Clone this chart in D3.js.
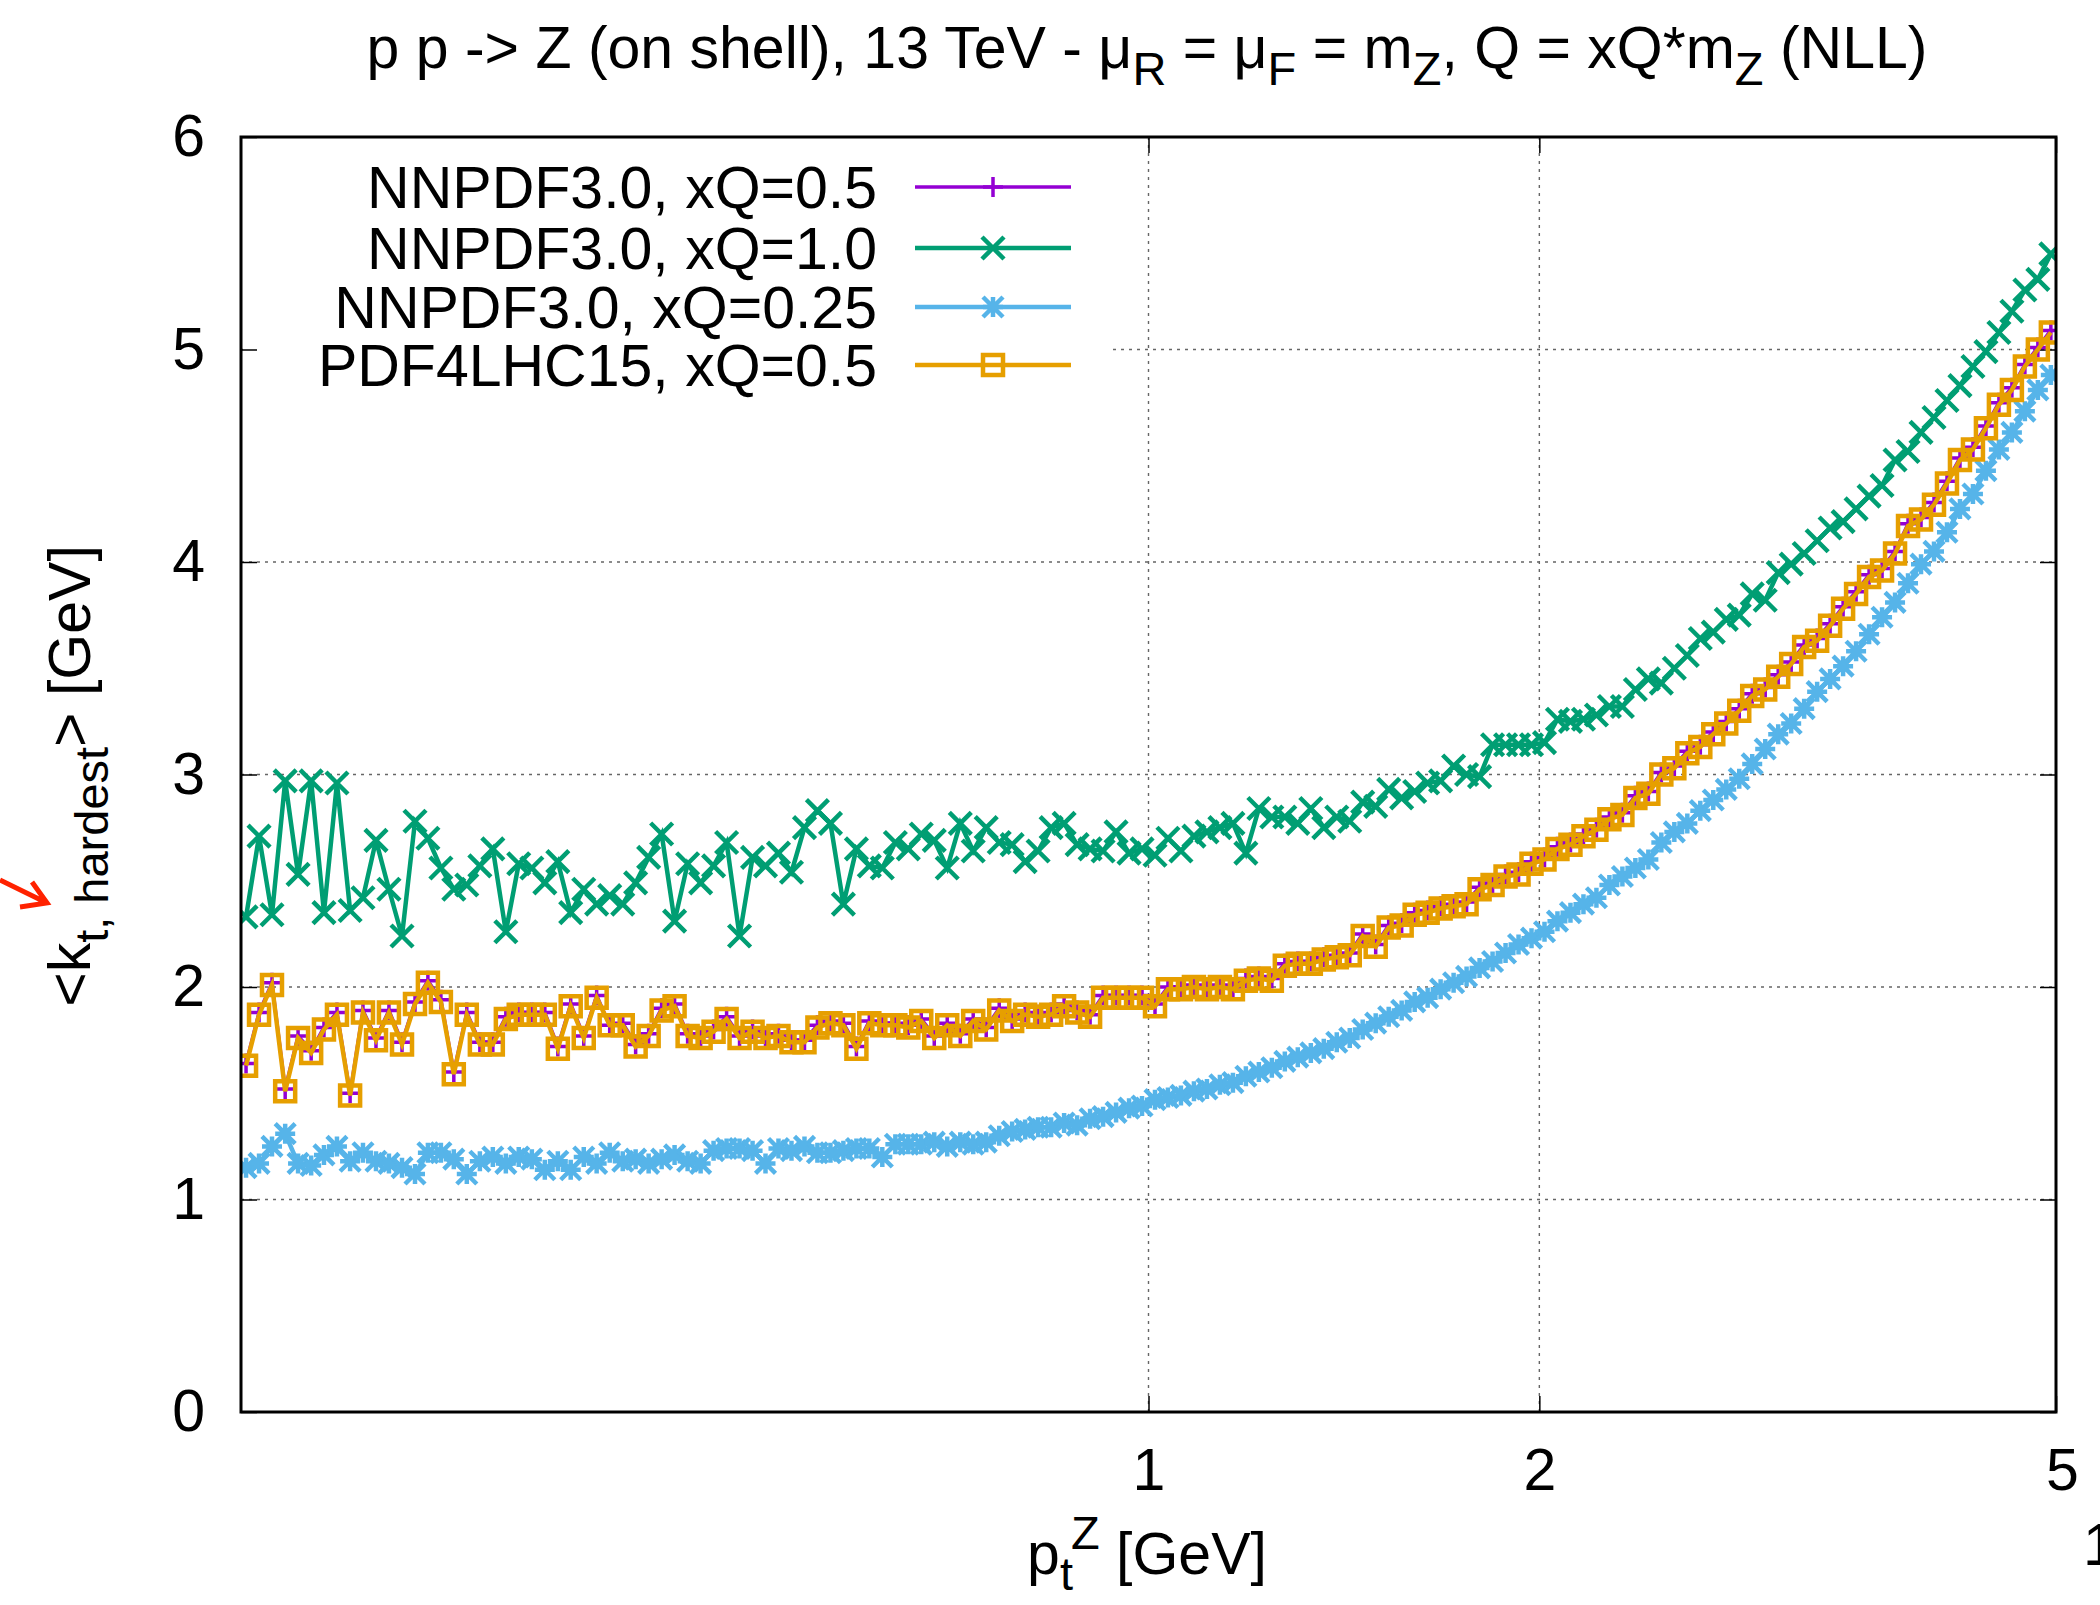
<!DOCTYPE html>
<html>
<head>
<meta charset="utf-8">
<script src="https://cdn.jsdelivr.net/npm/d3@7"></script>
<style>
    body { margin: 0; background: #fff; }
    text { font-family: "Liberation Sans", Arial, Helvetica, sans-serif; fill: #000; }
</style>
</head>
<body>
<svg id="chart" width="2100" height="1605"></svg>
<script>
// pt bins (GeV), 100 log bins per decade
const ptBins = [
    0.2018, 0.2065, 0.2113, 0.2163, 0.2213, 0.2265, 0.2317, 0.2371, 0.2427, 0.2483,
    0.2541, 0.2600, 0.2661, 0.2723, 0.2786, 0.2851, 0.2917, 0.2985, 0.3055, 0.3126,
    0.3199, 0.3273, 0.3350, 0.3428, 0.3508, 0.3589, 0.3673, 0.3758, 0.3846, 0.3936,
    0.4027, 0.4121, 0.4217, 0.4315, 0.4416, 0.4519, 0.4624, 0.4732, 0.4842, 0.4955,
    0.5070, 0.5188, 0.5309, 0.5433, 0.5559, 0.5689, 0.5821, 0.5957, 0.6095, 0.6237,
    0.6383, 0.6531, 0.6683, 0.6839, 0.6998, 0.7162, 0.7328, 0.7499, 0.7674, 0.7852,
    0.8035, 0.8222, 0.8414, 0.8610, 0.8811, 0.9016, 0.9226, 0.9441, 0.9661, 0.9886,
    1.0116, 1.0351, 1.0592, 1.0839, 1.1092, 1.1350, 1.1615, 1.1885, 1.2162, 1.2445,
    1.2735, 1.3031, 1.3336, 1.3646, 1.3964, 1.4289, 1.4621, 1.4962, 1.5311, 1.5667,
    1.6033, 1.6406, 1.6788, 1.7179, 1.7579, 1.7989, 1.8408, 1.8837, 1.9276, 1.9724,
    2.0184, 2.0653, 2.1135, 2.1628, 2.2131, 2.2646, 2.3174, 2.3713, 2.4266, 2.4831,
    2.5410, 2.6002, 2.6608, 2.7227, 2.7861, 2.8510, 2.9174, 2.9854, 3.0550, 3.1261,
    3.1989, 3.2734, 3.3496, 3.4276, 3.5075, 3.5892, 3.6728, 3.7584, 3.8459, 3.9355,
    4.0272, 4.1210, 4.2170, 4.3152, 4.4157, 4.5185, 4.6238, 4.7316, 4.8417, 4.9545
];

// <kt,hardest> for NNPDF3.0, xQ=0.5
const nnpdf05 = [
    1.64, 1.88, 2.02, 1.52, 1.77, 1.70, 1.81, 1.88, 1.50, 1.89,
    1.76, 1.89, 1.74, 1.93, 2.03, 1.94, 1.60, 1.88, 1.74, 1.74,
    1.86, 1.88, 1.88, 1.88, 1.72, 1.92, 1.77, 1.96, 1.82, 1.83,
    1.73, 1.78, 1.90, 1.92, 1.78, 1.77, 1.80, 1.86, 1.77, 1.80,
    1.77, 1.78, 1.75, 1.75, 1.82, 1.84, 1.83, 1.72, 1.84, 1.83,
    1.83, 1.82, 1.85, 1.77, 1.83, 1.78, 1.85, 1.81, 1.90, 1.85,
    1.88, 1.87, 1.88, 1.92, 1.89, 1.87, 1.96, 1.96, 1.96, 1.96,
    1.92, 2.00, 2.00, 2.01, 2.00, 2.01, 2.00, 2.04, 2.05, 2.04,
    2.11, 2.12, 2.12, 2.14, 2.15, 2.16, 2.25, 2.20, 2.29, 2.30,
    2.35, 2.36, 2.38, 2.39, 2.40, 2.47, 2.49, 2.53, 2.54, 2.59,
    2.61, 2.66, 2.68, 2.72, 2.75, 2.80, 2.82, 2.90, 2.92, 3.01,
    3.04, 3.11, 3.14, 3.20, 3.25, 3.31, 3.38, 3.41, 3.47, 3.53,
    3.61, 3.64, 3.71, 3.79, 3.86, 3.94, 3.97, 4.05, 4.18, 4.21,
    4.28, 4.38, 4.49, 4.54, 4.64, 4.75, 4.82, 4.93, 5.01, 5.09
];

// NNPDF3.0, xQ=1.0
const nnpdf10 = [
    2.33, 2.71, 2.34, 2.97, 2.53, 2.97, 2.35, 2.96, 2.36, 2.42,
    2.69, 2.46, 2.24, 2.78, 2.70, 2.56, 2.46, 2.48, 2.57, 2.65,
    2.26, 2.58, 2.56, 2.49, 2.59, 2.35, 2.46, 2.39, 2.43, 2.39,
    2.49, 2.61, 2.72, 2.31, 2.58, 2.49, 2.57, 2.68, 2.24, 2.61,
    2.57, 2.63, 2.54, 2.75, 2.83, 2.77, 2.39, 2.65, 2.57, 2.56,
    2.68, 2.65, 2.72, 2.69, 2.56, 2.77, 2.64, 2.75, 2.68, 2.67,
    2.59, 2.64, 2.75, 2.77, 2.67, 2.65, 2.64, 2.73, 2.63, 2.65,
    2.62, 2.70, 2.64, 2.71, 2.73, 2.75, 2.77, 2.63, 2.84, 2.80,
    2.80, 2.77, 2.84, 2.75, 2.80, 2.78, 2.87, 2.85, 2.93, 2.89,
    2.92, 2.96, 2.97, 3.04, 3.00, 2.99, 3.14, 3.14, 3.14, 3.14,
    3.15, 3.26, 3.25, 3.26, 3.28, 3.32, 3.32, 3.40, 3.45, 3.43,
    3.50, 3.56, 3.64, 3.67, 3.73, 3.75, 3.85, 3.82, 3.95, 3.99,
    4.04, 4.10, 4.16, 4.19, 4.25, 4.31, 4.36, 4.48, 4.52, 4.61,
    4.68, 4.76, 4.83, 4.92, 4.99, 5.08, 5.18, 5.28, 5.33, 5.45
];

// NNPDF3.0, xQ=0.25
const nnpdf025 = [
    1.15, 1.17, 1.25, 1.31, 1.17, 1.16, 1.21, 1.25, 1.18, 1.22,
    1.18, 1.17, 1.15, 1.12, 1.22, 1.22, 1.19, 1.12, 1.18, 1.20,
    1.17, 1.20, 1.19, 1.14, 1.18, 1.14, 1.20, 1.17, 1.22, 1.18,
    1.19, 1.17, 1.19, 1.21, 1.18, 1.17, 1.23, 1.24, 1.24, 1.23,
    1.17, 1.24, 1.23, 1.25, 1.22, 1.22, 1.23, 1.24, 1.24, 1.20,
    1.26, 1.26, 1.26, 1.27, 1.25, 1.27, 1.26, 1.27, 1.30, 1.32,
    1.33, 1.34, 1.34, 1.36, 1.35, 1.38, 1.39, 1.41, 1.43, 1.44,
    1.47, 1.48, 1.49, 1.51, 1.52, 1.54, 1.55, 1.58, 1.60, 1.62,
    1.65, 1.67, 1.69, 1.71, 1.74, 1.76, 1.80, 1.83, 1.86, 1.89,
    1.93, 1.95, 1.99, 2.02, 2.05, 2.09, 2.12, 2.16, 2.20, 2.23,
    2.26, 2.31, 2.35, 2.39, 2.42, 2.48, 2.52, 2.56, 2.60, 2.68,
    2.73, 2.77, 2.83, 2.88, 2.93, 2.98, 3.05, 3.12, 3.19, 3.24,
    3.31, 3.39, 3.45, 3.51, 3.58, 3.66, 3.74, 3.81, 3.90, 3.99,
    4.05, 4.14, 4.25, 4.32, 4.43, 4.53, 4.61, 4.71, 4.81, 4.88
];

// PDF4LHC15, xQ=0.5
const pdf4lhc05 = [
    1.63, 1.87, 2.01, 1.51, 1.76, 1.69, 1.80, 1.87, 1.49, 1.88,
    1.75, 1.88, 1.73, 1.92, 2.02, 1.93, 1.59, 1.87, 1.73, 1.73,
    1.85, 1.87, 1.87, 1.87, 1.71, 1.91, 1.76, 1.95, 1.82, 1.82,
    1.72, 1.77, 1.89, 1.91, 1.77, 1.76, 1.79, 1.85, 1.76, 1.79,
    1.76, 1.77, 1.74, 1.74, 1.81, 1.83, 1.82, 1.71, 1.83, 1.82,
    1.82, 1.81, 1.84, 1.76, 1.82, 1.77, 1.84, 1.80, 1.89, 1.84,
    1.87, 1.86, 1.87, 1.91, 1.88, 1.86, 1.95, 1.95, 1.95, 1.95,
    1.91, 1.99, 1.99, 2.00, 1.99, 2.00, 1.99, 2.03, 2.04, 2.03,
    2.10, 2.11, 2.11, 2.13, 2.14, 2.15, 2.24, 2.19, 2.28, 2.29,
    2.34, 2.35, 2.37, 2.38, 2.39, 2.46, 2.48, 2.52, 2.53, 2.58,
    2.60, 2.65, 2.67, 2.71, 2.74, 2.79, 2.81, 2.89, 2.91, 3.00,
    3.03, 3.10, 3.13, 3.19, 3.24, 3.30, 3.37, 3.40, 3.46, 3.52,
    3.60, 3.63, 3.70, 3.78, 3.85, 3.93, 3.96, 4.04, 4.17, 4.20,
    4.27, 4.37, 4.48, 4.53, 4.63, 4.74, 4.81, 4.92, 5.00, 5.08
];

const yTicks = [0, 1, 2, 3, 4, 5, 6];
const xTicks = [1, 2, 5];
const seriesNames = ["NNPDF3.0, xQ=0.5", "NNPDF3.0, xQ=1.0", "NNPDF3.0, xQ=0.25", "PDF4LHC15, xQ=0.5"];

const W = 2100, H = 1605;
const mLeft = 241, mRight = 2056, mTop = 137, mBottom = 1412;
const FS = 59;

const svg = d3.select("#chart");
svg.append("rect").attr("width", W).attr("height", H).attr("fill", "#fff");

const x = d3.scaleLog().domain([0.2, 5]).range([mLeft, mRight]);
const y = d3.scaleLinear().domain([0, 6]).range([mBottom, mTop]);

// grid (dotted)
const grid = svg.append("g")
    .attr("stroke", "#666")
    .attr("stroke-width", 1.4)
    .attr("stroke-dasharray", "3,5");
grid.selectAll("line.h")
    .data(yTicks.filter(d => d > 0 && d < 6))
    .enter().append("line")
    .attr("x1", mLeft).attr("x2", mRight)
    .attr("y1", d => y(d)).attr("y2", d => y(d));
grid.selectAll("line.v")
    .data(xTicks.filter(d => d < 5))
    .enter().append("line")
    .attr("x1", d => x(d)).attr("x2", d => x(d))
    .attr("y1", mTop).attr("y2", mBottom);

// key background hides the grid behind it
svg.append("rect")
    .attr("x", mLeft + 2).attr("y", mTop + 2)
    .attr("width", 1109 - mLeft - 2).attr("height", 396 - mTop)
    .attr("fill", "#fff");

// axes, ticks pointing inwards
const tick = 16;
svg.append("g")
    .attr("transform", `translate(${mLeft},0)`)
    .call(d3.axisLeft(y).tickValues(yTicks).tickFormat(d3.format("d")).tickSize(-tick).tickPadding(36))
    .call(g => g.select(".domain").remove())
    .call(g => g.selectAll("line").attr("stroke", "#000").attr("stroke-width", 1.5))
    .call(g => g.selectAll("text").attr("font-size", FS).attr("font-family", null));

svg.append("g")
    .attr("transform", `translate(${mRight},0)`)
    .call(d3.axisRight(y).tickValues(yTicks).tickSize(-tick).tickFormat(""))
    .call(g => g.select(".domain").remove())
    .call(g => g.selectAll("line").attr("stroke", "#000").attr("stroke-width", 1.5));

svg.append("g")
    .attr("transform", `translate(0,${mBottom})`)
    .call(d3.axisBottom(x).tickValues(xTicks).tickFormat(d3.format("d")).tickSize(-tick).tickPadding(36))
    .call(g => g.select(".domain").remove())
    .call(g => g.selectAll("line").attr("stroke", "#000").attr("stroke-width", 1.5))
    .call(g => g.selectAll("text").attr("font-size", FS).attr("font-family", null))
    .call(g => g.selectAll(".tick").filter(d => d === 5).select("text").attr("dx", 6));

svg.append("g")
    .attr("transform", `translate(0,${mTop})`)
    .call(d3.axisTop(x).tickValues(xTicks).tickSize(-tick).tickFormat(""))
    .call(g => g.select(".domain").remove())
    .call(g => g.selectAll("line").attr("stroke", "#000").attr("stroke-width", 1.5));

// data
svg.append("clipPath").attr("id", "plotclip")
    .append("rect").attr("x", mLeft).attr("y", mTop)
    .attr("width", mRight - mLeft).attr("height", mBottom - mTop);

function markerPath(type, s) {
    const plus = `M${-s},0H${s}M0,${-s}V${s}`;
    const cross = `M${-s},${-s}L${s},${s}M${-s},${s}L${s},${-s}`;
    if (type === "plus") return plus;
    if (type === "cross") return cross;
    if (type === "star") return plus + cross;
    return `M${-s},${-s}H${s}V${s}H${-s}Z`;
}

const series = [
    { name: seriesNames[0], values: nnpdf05, color: "#9400d3", lw: 3.5, marker: "plus", size: 10 },
    { name: seriesNames[1], values: nnpdf10, color: "#009e73", lw: 4.5, marker: "cross", size: 11 },
    { name: seriesNames[2], values: nnpdf025, color: "#56b4e9", lw: 4.5, marker: "star", size: 10 },
    { name: seriesNames[3], values: pdf4lhc05, color: "#e69f00", lw: 4.5, marker: "square", size: 10 }
];

const line = d3.line()
    .x(d => x(d[0]))
    .y(d => y(d[1]));

const plot = svg.append("g").attr("clip-path", "url(#plotclip)");

series.forEach(s => {
    const pts = ptBins.map((p, i) => [p, s.values[i]]);
    const g = plot.append("g");
    g.append("path")
        .datum(pts)
        .attr("d", line)
        .attr("fill", "none")
        .attr("stroke", s.color)
        .attr("stroke-width", s.lw)
        .attr("stroke-linejoin", "miter");
    g.selectAll("path.pt")
        .data(pts)
        .enter().append("path")
        .attr("class", "pt")
        .attr("transform", d => `translate(${x(d[0])},${y(d[1])})`)
        .attr("d", markerPath(s.marker, s.size))
        .attr("fill", "none")
        .attr("stroke", s.color)
        .attr("stroke-width", s.lw);
});

// key
const keyRows = [187, 248, 307, 365];
const key = svg.append("g");
series.forEach((s, i) => {
    key.append("text")
        .attr("x", 877).attr("y", keyRows[i] + 21)
        .attr("text-anchor", "end")
        .attr("font-size", FS)
        .text(s.name);
    key.append("line")
        .attr("x1", 915).attr("x2", 1071)
        .attr("y1", keyRows[i]).attr("y2", keyRows[i])
        .attr("stroke", s.color).attr("stroke-width", s.lw);
    key.append("path")
        .attr("transform", `translate(993,${keyRows[i]})`)
        .attr("d", markerPath(s.marker, s.size))
        .attr("fill", "none")
        .attr("stroke", s.color).attr("stroke-width", s.lw);
});

// border
svg.append("rect")
    .attr("x", mLeft).attr("y", mTop)
    .attr("width", mRight - mLeft).attr("height", mBottom - mTop)
    .attr("fill", "none").attr("stroke", "#000").attr("stroke-width", 3);

// title
const title = svg.append("text")
    .attr("x", 1147).attr("y", 68)
    .attr("text-anchor", "middle")
    .attr("font-size", 59);
const sub = (t, txt) => {
    t.append("tspan").attr("dy", 17).attr("font-size", 47).text(txt);
};
title.append("tspan").text("p p -> Z (on shell), 13 TeV - μ");
sub(title, "R");
title.append("tspan").attr("dy", -17).text(" = μ");
sub(title, "F");
title.append("tspan").attr("dy", -17).text(" = m");
sub(title, "Z");
title.append("tspan").attr("dy", -17).text(", Q = xQ*m");
sub(title, "Z");
title.append("tspan").attr("dy", -17).text(" (NLL)");

// x label
const xl = svg.append("text")
    .attr("x", 1147).attr("y", 1574)
    .attr("text-anchor", "middle")
    .attr("font-size", FS);
xl.append("tspan").text("p");
xl.append("tspan").attr("dy", 16).attr("font-size", 47).text("t");
xl.append("tspan").attr("dy", -41).attr("dx", -2).attr("font-size", 47).text("Z");
xl.append("tspan").attr("dy", 25).text(" [GeV]");

// y label
const yl = svg.append("text")
    .attr("transform", "translate(90,776) rotate(-90)")
    .attr("text-anchor", "middle")
    .attr("font-size", FS);
yl.append("tspan").text("<k");
yl.append("tspan").attr("dy", 18).attr("font-size", 47).text("t, hardest");
yl.append("tspan").attr("dy", -18).text("> [GeV]");

// stray annotation pieces at the cropped edges
svg.append("path")
    .attr("d", "M0,880L47,903M32,882L47,903L20,907")
    .attr("fill", "none")
    .attr("stroke", "#ff2200")
    .attr("stroke-width", 5)
    .attr("stroke-linejoin", "miter");

svg.append("text")
    .attr("x", 2083).attr("y", 1565)
    .attr("font-size", FS)
    .text("1");
</script>
</body>
</html>
